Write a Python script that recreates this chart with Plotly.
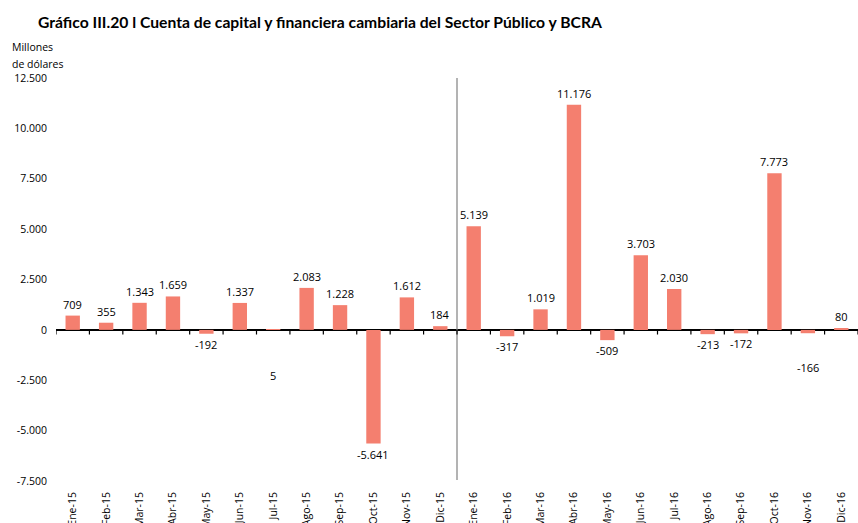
import plotly.graph_objects as go

months = ["Ene-15", "Feb-15", "Mar-15", "Abr-15", "May-15", "Jun-15", "Jul-15", "Ago-15",
          "Sep-15", "Oct-15", "Nov-15", "Dic-15", "Ene-16", "Feb-16", "Mar-16", "Abr-16",
          "May-16", "Jun-16", "Jul-16", "Ago-16", "Sep-16", "Oct-16", "Nov-16", "Dic-16"]
values = [709, 355, 1343, 1659, -192, 1337, 5, 2083, 1228, -5641, 1612, 184,
          5139, -317, 1019, 11176, -509, 3703, 2030, -213, -172, 7773, -166, 80]
y_ticks = [-7500, -5000, -2500, 0, 2500, 5000, 7500, 10000, 12500]

# extra vertical offsets (px) of some data labels as placed in the original
label_extra = {"Jul-15": -35, "Nov-16": -27}

FONT = "Open Sans"
TFONT = "Lato"
BAR = "#F47F6F"


def fmt(v):
    return f"{v:,}".replace(",", ".")


fig = go.Figure()
fig.add_trace(go.Bar(x=months, y=values, marker_color=BAR, marker_line_width=0,
                     width=0.43, hoverinfo="x+y"))

annotations = []
for m, v in zip(months, values):
    extra = label_extra.get(m, 0)
    pos = v >= 0 and extra == 0
    annotations.append(dict(
        x=m, y=v if extra == 0 else 0, xref="x", yref="y", text=fmt(v), showarrow=False,
        yanchor="bottom" if pos else "top",
        yshift=(2 if pos else -1) + extra,
        font=dict(family=FONT, size=11, color="#000000")))

annotations += [
    dict(text="<b>Gráfico III.20 l Cuenta de capital y financiera cambiaria del Sector Público y BCRA</b>",
         xref="paper", yref="paper", x=-0.025, y=1.0, yshift=56, xanchor="left", yanchor="middle",
         showarrow=False, font=dict(family=TFONT, size=15.7, color="#000000")),
    dict(text="Millones", xref="paper", yref="paper", x=-0.057, y=1.0, yshift=31,
         xanchor="left", yanchor="middle", showarrow=False,
         font=dict(family=FONT, size=10.5, color="#000000")),
    dict(text="de dólares", xref="paper", yref="paper", x=-0.057, y=1.0, yshift=14,
         xanchor="left", yanchor="middle", showarrow=False,
         font=dict(family=FONT, size=10.5, color="#000000")),
]

shapes = [dict(type="line", xref="x", yref="y", x0=11.5, x1=11.5, y0=-7450, y1=12500,
               line=dict(color="#808080", width=1.2))]
for i in range(len(months) + 1):
    shapes.append(dict(type="line", xref="x", yref="y", x0=i - 0.5, x1=i - 0.5, y0=0, y1=-230,
                       line=dict(color="#000000", width=1.2), layer="above"))

fig.update_layout(
    width=858, height=523,
    margin=dict(l=56, r=0, t=78, b=42, autoexpand=False),
    paper_bgcolor="white", plot_bgcolor="white",
    separators=",.",
    showlegend=False,
    bargap=0.57,
    font=dict(family=FONT, size=11, color="#000000"),
    annotations=annotations,
    shapes=shapes,
    xaxis=dict(type="category", range=[-0.5, len(months) - 0.5], tickangle=-90,
               showline=False, ticks="", showgrid=False, zeroline=False, automargin=False,
               ticklabelstandoff=8, tickfont=dict(family=FONT, size=10.5, color="#000000")),
    yaxis=dict(range=[-7500, 12500], tickvals=y_ticks, ticktext=[fmt(t) for t in y_ticks],
               showgrid=False, zeroline=True, zerolinecolor="#000000", zerolinewidth=1.5,
               showline=False, ticks="", ticklabelstandoff=8, automargin=False,
               tickfont=dict(family=FONT, size=10.5, color="#000000")),
)

fig.write_html("out.html", config={"displayModeBar": False},
               post_script="document.body.style.margin='0';document.body.style.overflow='hidden';")
